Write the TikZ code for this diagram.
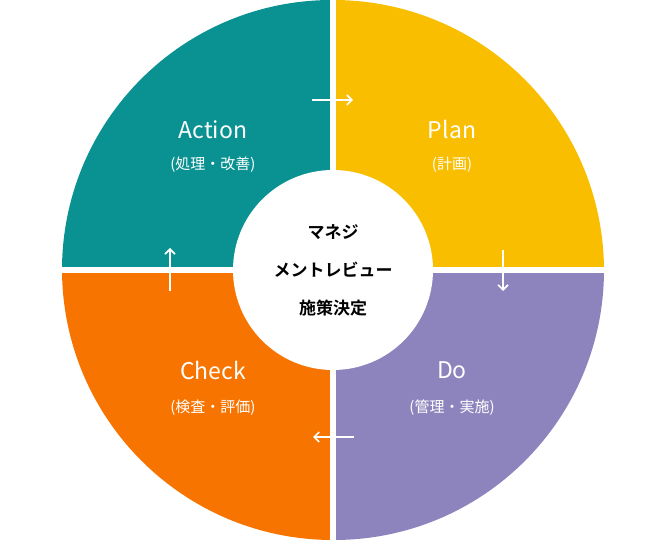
\documentclass[tikz,border=0pt]{standalone}
\usepackage{fontspec}
\setmainfont{Noto Sans CJK JP}
\newfontfamily\jpb{Noto Sans CJK JP}[BoldFont={* Bold}]
\usetikzlibrary{arrows.meta}
\definecolor{cteal}{HTML}{0A9191}
\definecolor{cyellow}{HTML}{F9BE00}
\definecolor{cpurple}{HTML}{8E84BD}
\definecolor{corange}{HTML}{F77400}
\tikzset{
  lbl/.style={text=white,font=\fontsize{23}{26}\selectfont},
  sub/.style={text=white,font=\fontsize{15}{18}\selectfont},
  flow/.style={draw=white,line width=1.6pt,-{Straight Barb[length=5pt,width=10pt]}},
}
\begin{document}
\begin{tikzpicture}[x=1pt,y=1pt]
\useasboundingbox (-333,-270) rectangle (333,270);
\fill[cteal] (0,0) -- (-271,0) arc[start angle=180,end angle=90,radius=270] -- cycle;
\fill[cyellow] (0,0) -- (0,270) arc[start angle=90,end angle=0,radius=271] -- cycle;
\fill[cpurple] (0,0) -- (271,0) arc[start angle=0,end angle=-90,radius=270] -- cycle;
\fill[corange] (0,0) -- (0,-270) arc[start angle=-90,end angle=-180,radius=271] -- cycle;
\draw[white,line width=6pt] (0,272) -- (0,-272);
\draw[white,line width=6pt] (-274,0) -- (274,0);
\node[circle,fill=white,minimum size=200pt,inner sep=0pt,align=center,
  font=\jpb\bfseries\fontsize{17}{38}\selectfont] (center) at (0,0)
  {マネジ\\メントレビュー\\施策決定};
\node[lbl] (act) at (-120,140) {Action};
\node[sub] (actj) at (-120,105) {(処理・改善)};
\node[lbl] (plan) at (119,140) {Plan};
\node[sub] (planj) at (119,105) {(計画)};
\node[lbl] (chk) at (-120,-100) {Check};
\node[sub] (chkj) at (-120,-138) {(検査・評価)};
\node[lbl] (do) at (119,-100) {Do};
\node[sub] (doj) at (119,-138) {(管理・実施)};
\coordinate (a1) at (-21,170); \coordinate (a2) at (20,170);
\coordinate (b1) at (170,20); \coordinate (b2) at (170,-21);
\coordinate (c1) at (21,-167); \coordinate (c2) at (-20,-167);
\coordinate (d1) at (-163,-21); \coordinate (d2) at (-163,22);
\draw[flow] (a1) -- (a2);
\draw[flow] (b1) -- (b2);
\draw[flow] (c1) -- (c2);
\draw[flow] (d1) -- (d2);
\end{tikzpicture}
\end{document}
